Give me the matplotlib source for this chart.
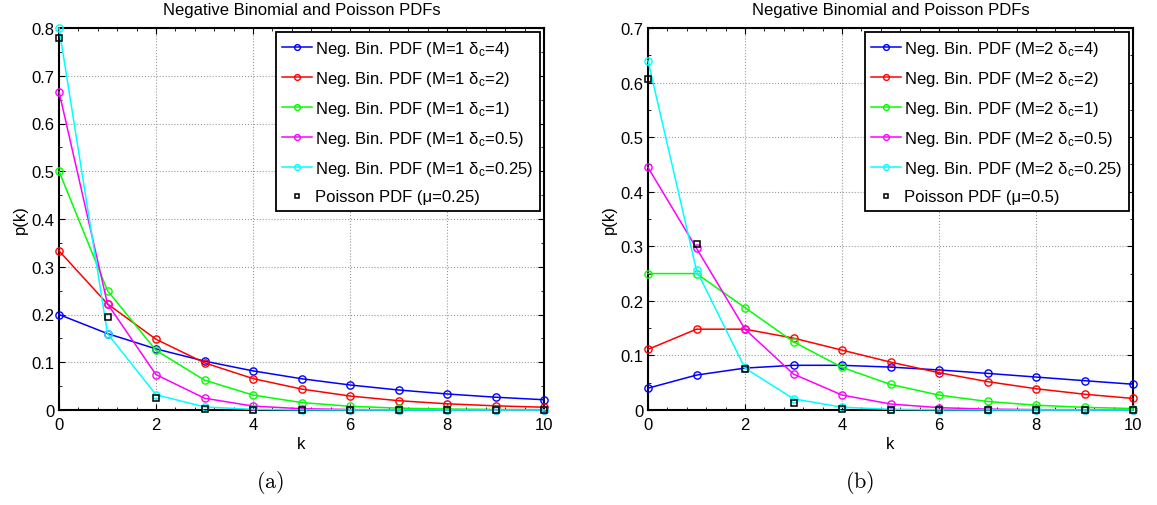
import matplotlib
matplotlib.use("Agg")
import matplotlib.pyplot as plt
from matplotlib.ticker import MultipleLocator, AutoMinorLocator

plt.rcParams["font.family"] = ["Liberation Sans", "DejaVu Sans"]
plt.rcParams["mathtext.fontset"] = "custom"
plt.rcParams["mathtext.rm"] = "Liberation Sans"
plt.rcParams["mathtext.it"] = "Liberation Sans:italic"
plt.rcParams["mathtext.sf"] = "Liberation Sans"

# number of occurrences
k = [0, 1, 2, 3, 4, 5, 6, 7, 8, 9, 10]

# M = 1 negative binomial probabilities
nb1_d4 = [0.2000, 0.1600, 0.1280, 0.1024, 0.0819, 0.0655, 0.0524, 0.0419, 0.0336, 0.0268, 0.0215]
nb1_d2 = [0.3333, 0.2222, 0.1481, 0.0988, 0.0658, 0.0439, 0.0293, 0.0195, 0.0130, 0.0087, 0.0058]
nb1_d1 = [0.5000, 0.2500, 0.1250, 0.0625, 0.0313, 0.0156, 0.0078, 0.0039, 0.0020, 0.0010, 0.0005]
nb1_d05 = [0.6667, 0.2222, 0.0741, 0.0247, 0.0082, 0.0027, 0.0009, 0.0003, 0.0001, 0.0000, 0.0000]
nb1_d025 = [0.8000, 0.1600, 0.0320, 0.0064, 0.0013, 0.0003, 0.0001, 0.0000, 0.0000, 0.0000, 0.0000]
pois_025 = [0.7788, 0.1947, 0.0243, 0.0020, 0.0001, 0.0000, 0.0000, 0.0000, 0.0000, 0.0000, 0.0000]

# M = 2 negative binomial probabilities
nb2_d4 = [0.0400, 0.0640, 0.0768, 0.0819, 0.0819, 0.0786, 0.0734, 0.0671, 0.0604, 0.0537, 0.0472]
nb2_d2 = [0.1111, 0.1481, 0.1481, 0.1317, 0.1097, 0.0878, 0.0683, 0.0520, 0.0390, 0.0289, 0.0212]
nb2_d1 = [0.2500, 0.2500, 0.1875, 0.1250, 0.0781, 0.0469, 0.0273, 0.0156, 0.0088, 0.0049, 0.0027]
nb2_d05 = [0.4444, 0.2963, 0.1481, 0.0658, 0.0274, 0.0110, 0.0043, 0.0016, 0.0006, 0.0002, 0.0001]
nb2_d025 = [0.6400, 0.2560, 0.0768, 0.0205, 0.0051, 0.0012, 0.0003, 0.0001, 0.0000, 0.0000, 0.0000]
pois_05 = [0.6065, 0.3033, 0.0758, 0.0126, 0.0016, 0.0002, 0.0000, 0.0000, 0.0000, 0.0000, 0.0000]

deltas = ["4", "2", "1", "0.5", "0.25"]
colors = ["#0000ff", "#ff0000", "#00ff00", "#ff00ff", "#00ffff"]

panels = [
    dict(M=1, series=[nb1_d4, nb1_d2, nb1_d1, nb1_d05, nb1_d025], pois=pois_025,
         mu="0.25", ymax=0.8, tag="(a)"),
    dict(M=2, series=[nb2_d4, nb2_d2, nb2_d1, nb2_d05, nb2_d025], pois=pois_05,
         mu="0.5", ymax=0.7, tag="(b)"),
]

W, H = 1157, 506
fig = plt.figure(figsize=(W / 100, H / 100), dpi=100)

ax_left_px = [59, 648]
ax_w_px = 485
ax_top_px, ax_bot_px = 29, 411

for p, x0 in zip(panels, ax_left_px):
    ax = fig.add_axes([x0 / W, 1 - ax_bot_px / H, ax_w_px / W, (ax_bot_px - ax_top_px) / H])
    for vals, d, c in zip(p["series"], deltas, colors):
        ax.plot(k, vals, color=c, lw=1.1, marker="o", ms=5.2, mfc="none", mew=1.0,
                clip_on=False, zorder=3,
                label="Neg. Bin. PDF (M=%d $\\mathrm{\\delta}_{\\mathrm{c}}$=%s)" % (p["M"], d))
    ax.plot(k, p["pois"], ls="none", marker="s", ms=4.0, mfc="none", mec="black",
            mew=1.1, clip_on=False, zorder=4,
            label="Poisson PDF (\u03bc=%s)" % p["mu"])

    ax.set_xlim(0, 10)
    ax.set_ylim(0, p["ymax"])
    ax.xaxis.set_major_locator(MultipleLocator(2))
    ax.xaxis.set_minor_locator(AutoMinorLocator(5))
    ax.yaxis.set_major_locator(MultipleLocator(0.1))
    ax.yaxis.set_minor_locator(AutoMinorLocator(2))
    ax.set_yticklabels(["0" if abs(t) < 1e-9 else ("%g" % t) for t in ax.get_yticks()])
    ax.tick_params(which="both", direction="in", top=True, right=True, labelsize=12)
    ax.tick_params(which="major", length=4, width=0.8)
    ax.tick_params(which="minor", length=2, width=0.6)
    ax.tick_params(axis="x", pad=5)
    ax.tick_params(axis="y", pad=3)
    ax.grid(True, which="major", ls=":", color="0.6", lw=0.8)
    for s in ax.spines.values():
        s.set_linewidth(1.5)
    ax.set_xlabel("k", fontsize=12, labelpad=3)
    ax.set_ylabel("p(k)", fontsize=12, labelpad=3)
    ax.set_title("Negative Binomial and Poisson PDFs", fontsize=12, pad=10)

    leg = ax.legend(loc="upper right", fontsize=12, fancybox=False, framealpha=1,
                    edgecolor="black", borderaxespad=0.25, handlelength=1.8,
                    handletextpad=0.2, labelspacing=0.67, borderpad=0.38,
                    markerscale=0.8)
    leg.get_frame().set_linewidth(1.3)

    fig.text((x0 + ax_w_px / 2 - 31) / W, 1 - 483 / H, "$\\mathrm{%s}$" % p["tag"],
             fontsize=16, ha="center", va="center", math_fontfamily="cm")

fig.savefig("out.png", dpi=100)
